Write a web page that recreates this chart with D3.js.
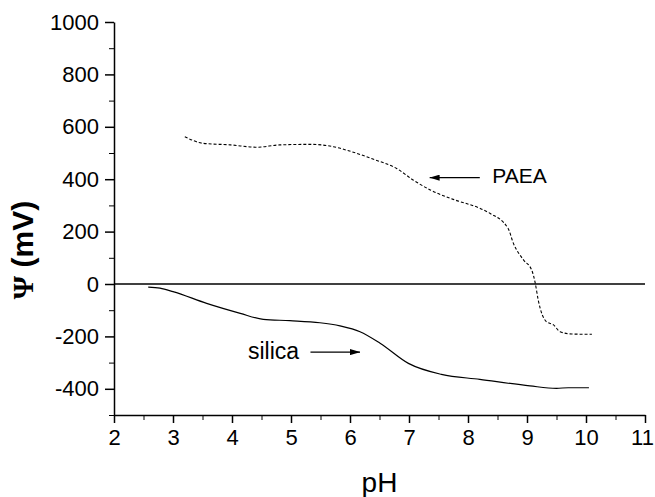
<!DOCTYPE html>
<html>
<head>
<meta charset="utf-8">
<script src="https://cdn.jsdelivr.net/npm/d3@7"></script>
<style>
  body { margin: 0; background: #fff; }
  svg text { font-family: Arial, "Liberation Sans", sans-serif; fill: #000; }
</style>
</head>
<body>
<div class="chart"></div>
<script>
const margin = ({top: 22, right: 10, bottom: 82, left: 114});
const width = 655 - margin.left - margin.right;
const height = 497 - margin.top - margin.bottom;

// data
const silicaPH = [2.58, 2.78, 3.0, 3.57, 4.14, 4.53, 4.98, 5.49, 5.83, 6.17, 6.51, 6.99, 7.55, 8.2, 9.05, 9.5, 9.7, 10.05];
const silicaPsi = [-12, -16, -29, -74, -112, -135, -140, -148, -160, -182, -226, -303, -345, -364, -389, -398, -396, -396];

const paeaPH = [3.2, 3.51, 3.97, 4.42, 4.81, 5.32, 5.72, 5.94, 6.4, 6.79, 7.07, 7.36, 7.75, 8.2, 8.37, 8.68, 8.77, 8.94, 9.08, 9.14, 9.19, 9.33, 9.45, 9.56, 9.76, 10.1];
const paeaPsi = [562, 537, 531, 522, 531, 533, 524, 511, 476, 441, 397, 359, 323, 289, 270, 212, 155, 92, 53, 3, -61, -144, -156, -182, -191, -192];

const xTicks = [2, 3, 4, 5, 6, 7, 8, 9, 10, 11];
const yTicks = [-400, -200, 0, 200, 400, 600, 800, 1000];

const x = d3.scaleLinear().domain([2, 11]).range([0, width]);
const y = d3.scaleLinear().domain([-500, 1000]).range([height, 0]);

const svg = d3.select('.chart').append('svg')
    .attr("width", width + margin.left + margin.right)
    .attr("height", height + margin.top + margin.bottom)
    .append("g")
    .attr("transform", "translate(" + margin.left + "," + margin.top + ")");

// minor ticks first, then major
svg.append("g")
    .attr("transform", "translate(0," + height + ")")
    .call(d3.axisBottom(x).tickValues(d3.range(2.5, 11, 1)).tickSize(5).tickFormat(""))
    .call(g => g.select(".domain").remove());
svg.append("g")
    .call(d3.axisLeft(y).tickValues(d3.range(-500, 1000, 200)).tickSize(5).tickFormat(""))
    .call(g => g.select(".domain").remove());

const xAxis = svg.append("g")
    .attr("transform", "translate(0," + height + ")")
    .call(d3.axisBottom(x).tickValues(xTicks).tickSize(8).tickSizeOuter(0).tickPadding(6).tickFormat(d => String(d)));
const yAxis = svg.append("g")
    .call(d3.axisLeft(y).tickValues(yTicks).tickSize(9).tickSizeOuter(0).tickPadding(6).tickFormat(d => String(d)));

[xAxis, yAxis].forEach(a => {
    a.selectAll("text").style("font-size", "22px").attr("fill", "#000");
    a.selectAll("line").attr("stroke-width", 1.5);
    a.select(".domain").attr("stroke-width", 1.5);
});
// last label sits right at the page edge
xAxis.selectAll("text").filter(d => d === 11).attr("dx", -3);

// zero line
svg.append("line")
    .attr("x1", x(2)).attr("x2", x(11))
    .attr("y1", y(0)).attr("y2", y(0))
    .attr("stroke", "#000")
    .attr("stroke-width", 1.5);

const line = d3.line()
    .x(d => x(d[0]))
    .y(d => y(d[1]))
    .curve(d3.curveMonotoneX);

svg.append("path")
    .datum(d3.zip(silicaPH, silicaPsi))
    .attr("fill", "none")
    .attr("stroke", "#000")
    .attr("stroke-width", 1.2)
    .attr("d", line);

svg.append("path")
    .datum(d3.zip(paeaPH, paeaPsi))
    .attr("fill", "none")
    .attr("stroke", "#000")
    .attr("stroke-width", 1.1)
    .attr("stroke-dasharray", "3,2")
    .attr("d", line);

// arrows
const defs = svg.append("defs");
defs.append("marker")
    .attr("id", "arrow")
    .attr("viewBox", "0 0 10 6")
    .attr("refX", 10).attr("refY", 3)
    .attr("markerWidth", 10).attr("markerHeight", 6)
    .attr("markerUnits", "userSpaceOnUse")
    .attr("orient", "auto")
    .append("path")
    .attr("d", "M0,0L10,3L0,6Z")
    .attr("fill", "#000");

svg.append("line")
    .attr("x1", x(5.33)).attr("x2", x(6.17))
    .attr("y1", y(-260)).attr("y2", y(-260))
    .attr("stroke", "#000").attr("stroke-width", 1.2)
    .attr("marker-end", "url(#arrow)");

svg.append("line")
    .attr("x1", x(8.2)).attr("x2", x(7.35))
    .attr("y1", y(406)).attr("y2", y(406))
    .attr("stroke", "#000").attr("stroke-width", 1.2)
    .attr("marker-end", "url(#arrow)");

svg.append("text")
    .attr("x", x(4.27)).attr("y", y(-288))
    .style("font-size", "23px")
    .text("silica");

svg.append("text")
    .attr("x", x(8.41)).attr("y", y(384))
    .style("font-size", "21px")
    .text("PAEA");

// axis titles
svg.append("text")
    .attr("x", width / 2).attr("y", height + 77)
    .attr("text-anchor", "middle")
    .style("font-size", "28px")
    .text("pH");

const yTitle = svg.append("text")
    .attr("transform", "translate(" + (33 - margin.left) + "," + (y(130)) + ") rotate(-90)")
    .attr("text-anchor", "middle")
    .style("font-size", "30px")
    .style("font-weight", "bold");
yTitle.append("tspan").style("font-family", "'Liberation Serif', serif").text("Ψ");
yTitle.append("tspan").text(" (mV)");
</script>
</body>
</html>
